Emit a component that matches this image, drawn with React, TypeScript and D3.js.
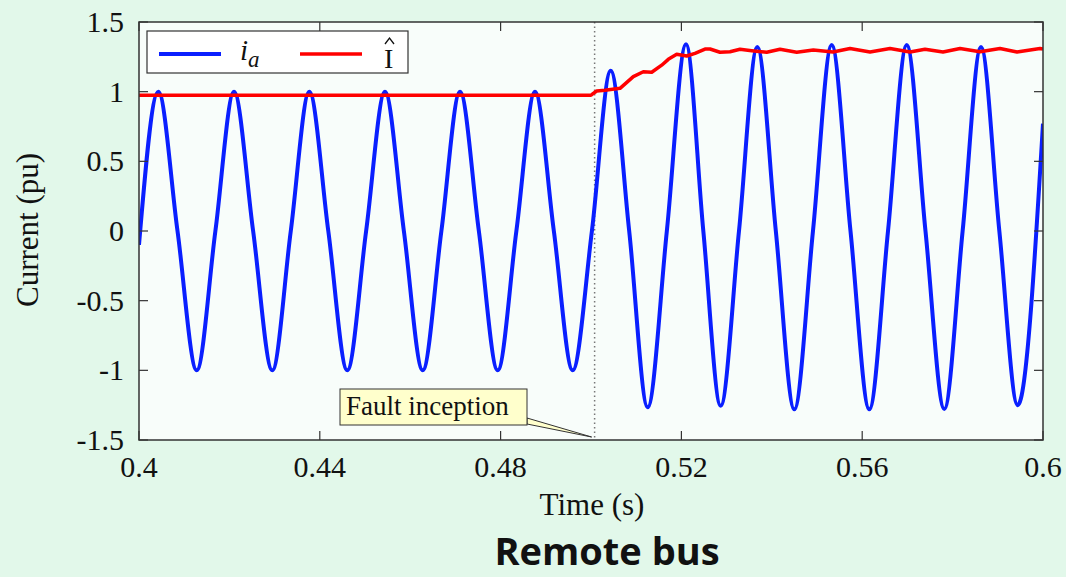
import React from "react";
import * as d3 from "d3";

// phase current i_a (pu): peaks, zero crossings and troughs
const iaTime = [
  0.4, 0.40427, 0.40852, 0.41277, 0.4169, 0.42102, 0.42525, 0.42949, 0.43358, 0.43768,
  0.44188, 0.44608, 0.45025, 0.45442, 0.4586, 0.46277, 0.4669, 0.47102, 0.47519, 0.47936,
  0.48349, 0.48761, 0.49178, 0.49595, 0.5002, 0.50436, 0.50845, 0.51254, 0.51678, 0.52102,
  0.52485, 0.52869, 0.53274, 0.53679, 0.54089, 0.54498, 0.54911, 0.55325, 0.55741, 0.56157,
  0.56571, 0.56985, 0.574, 0.57816, 0.58222, 0.58628, 0.59034, 0.5944, 0.6,
];
const iaValue = [
  -0.1, 1.0, 0, -1.0, 0, 1.0, 0, -1.0, 0, 1.0,
  0, -1.0, 0, 1.0, 0, -1.0, 0, 1.0, 0, -1.0,
  0, 1.0, 0, -1.0, 0, 1.15, 0, -1.265, 0, 1.34,
  0, -1.255, 0, 1.32, 0, -1.28, 0, 1.335, 0, -1.28,
  0, 1.335, 0, -1.278, 0, 1.32, 0, -1.25, 0.77,
];

// estimated magnitude I-hat (pu)
const magTime = [
  0.4, 0.5, 0.50022, 0.50126, 0.5031, 0.50642, 0.50936, 0.51157, 0.51343, 0.51564,
  0.5171, 0.51896, 0.52117, 0.52301, 0.52522, 0.52633, 0.52854, 0.53075, 0.53296, 0.53555,
  0.53887, 0.54181, 0.54551, 0.54918, 0.55354, 0.5573, 0.56173, 0.56615, 0.57058, 0.57389,
  0.57788, 0.58164, 0.58606, 0.59049, 0.59425, 0.59934, 0.6,
];
const magValue = [
  0.975, 0.975, 0.98, 1.005, 1.01, 1.024, 1.108, 1.143, 1.139, 1.19,
  1.232, 1.268, 1.256, 1.275, 1.306, 1.306, 1.283, 1.287, 1.304, 1.294,
  1.283, 1.304, 1.283, 1.299, 1.285, 1.31, 1.285, 1.31, 1.285, 1.305,
  1.285, 1.31, 1.287, 1.31, 1.285, 1.31, 1.305,
];

const xTicks = [0.4, 0.44, 0.48, 0.52, 0.56, 0.6];
const xTickLabels = ["0.4", "0.44", "0.48", "0.52", "0.56", "0.6"];
const yTicks = [-1.5, -1, -0.5, 0, 0.5, 1, 1.5];
const yTickLabels = ["-1.5", "-1", "-0.5", "0", "0.5", "1", "1.5"];
const faultTime = 0.5008;

const W = 1066;
const H = 577;
const left = 139;
const right = 1043;
const top = 22;
const bottom = 440;
const serif = "'Liberation Serif', 'DejaVu Serif', serif";

export default function App() {
  const x = d3.scaleLinear().domain([0.4, 0.6]).range([left, right]);
  const y = d3.scaleLinear().domain([-1.5, 1.5]).range([bottom, top]);

  const ia = iaTime.map((t, i) => [t, iaValue[i]] as [number, number]);
  const mag = magTime.map((t, i) => [t, magValue[i]] as [number, number]);

  const iaLine = d3
    .line<[number, number]>()
    .x((d) => x(d[0]))
    .y((d) => y(d[1]))
    .curve(d3.curveMonotoneX);
  const magLine = d3
    .line<[number, number]>()
    .x((d) => x(d[0]))
    .y((d) => y(d[1]))
    .curve(d3.curveLinear);

  const fx = x(faultTime);
  const tick = 9;

  return (
    <svg width={W} height={H} style={{ position: "absolute", left: 0, top: 0 }}>
      <rect x={0} y={0} width={W} height={H} fill="#e2f8ea" />
      <rect x={left} y={top} width={right - left} height={bottom - top} fill="#ffffff" opacity={0.75} />

      <defs>
        <clipPath id="plot">
          <rect x={left} y={top} width={right - left} height={bottom - top} />
        </clipPath>
      </defs>

      {/* fault line */}
      <line x1={fx} x2={fx} y1={top} y2={bottom} stroke="#777" strokeWidth={1.5} strokeDasharray="1.5 3" />

      <g clipPath="url(#plot)">
        <path d={iaLine(ia) || ""} fill="none" stroke="#0a1fff" strokeWidth={4} strokeLinejoin="round" />
        <path d={magLine(mag) || ""} fill="none" stroke="#ff0000" strokeWidth={3.5} strokeLinejoin="round" />
      </g>

      {/* frame and inward ticks */}
      <rect x={left} y={top} width={right - left} height={bottom - top} fill="none" stroke="#333" strokeWidth={1.5} />
      {xTicks.map((t) => (
        <g key={"xt" + t}>
          <line x1={x(t)} x2={x(t)} y1={bottom} y2={bottom - tick} stroke="#333" strokeWidth={1.2} />
          <line x1={x(t)} x2={x(t)} y1={top} y2={top + tick} stroke="#333" strokeWidth={1.2} />
        </g>
      ))}
      {yTicks.map((t) => (
        <g key={"yt" + t}>
          <line x1={left} x2={left + tick} y1={y(t)} y2={y(t)} stroke="#333" strokeWidth={1.2} />
          <line x1={right} x2={right - tick} y1={y(t)} y2={y(t)} stroke="#333" strokeWidth={1.2} />
        </g>
      ))}

      {/* tick labels */}
      {xTicks.map((t, i) => (
        <text key={"xl" + t} x={x(t)} y={477} textAnchor="middle" fontFamily={serif} fontSize={30} fill="#111">
          {xTickLabels[i]}
        </text>
      ))}
      {yTicks.map((t, i) => (
        <text key={"yl" + t} x={124} y={y(t) + 10} textAnchor="end" fontFamily={serif} fontSize={30} fill="#111">
          {yTickLabels[i]}
        </text>
      ))}

      {/* axis titles */}
      <text x={592} y={515} textAnchor="middle" fontFamily={serif} fontSize={31} fill="#111">
        Time (s)
      </text>
      <text transform="translate(38,230) rotate(-90)" textAnchor="middle" fontFamily={serif} fontSize={31} fill="#111">
        Current (pu)
      </text>

      {/* legend */}
      <rect x={147} y={31} width={261} height={42} fill="#fff" stroke="#333" strokeWidth={1.2} />
      <line x1={159} x2={221} y1={54} y2={54} stroke="#0a1fff" strokeWidth={4} />
      <text x={240} y={60} fontFamily={serif} fontSize={29} fontStyle="italic" fill="#111">
        i
        <tspan fontSize={23} dy={7}>a</tspan>
      </text>
      <line x1={300} x2={362} y1={54} y2={54} stroke="#ff0000" strokeWidth={3.5} />
      <text x={384} y={68} fontFamily={serif} fontSize={28} fill="#111">
        I
      </text>
      <path d="M385,44 L389.5,38 L394,44" fill="none" stroke="#111" strokeWidth={1.3} />

      {/* annotation */}
      <path
        d={`M${527},${418} L${fx - 3},${437} L${527},${424} Z`}
        fill="#ffffcc"
        stroke="#333"
        strokeWidth={1}
      />
      <rect x={340} y={389} width={187} height={36} fill="#ffffcc" stroke="#333" strokeWidth={1} />
      <text x={346} y={415} fontFamily={serif} fontSize={27} fill="#111">
        Fault inception
      </text>

      <text x={607} y={565} textAnchor="middle" fontFamily="'Open Sans', sans-serif" fontWeight={700} fontSize={38} fill="#111">
        Remote bus
      </text>
    </svg>
  );
}
